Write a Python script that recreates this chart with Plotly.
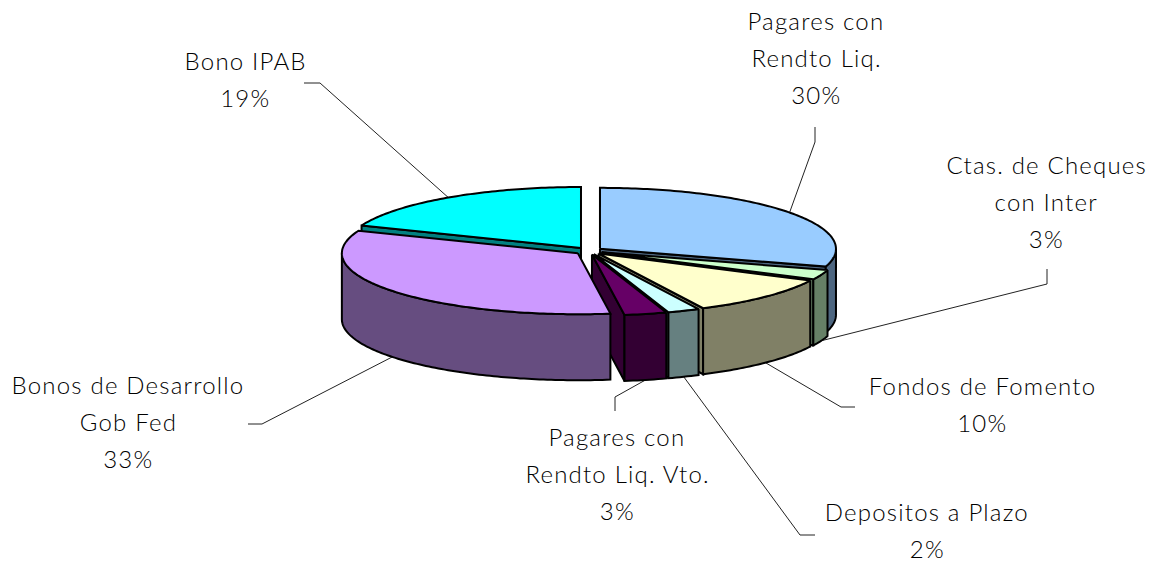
import math
import plotly.graph_objects as go

# ---- data ----
categories = ["Pagares con Rendto Liq.", "Ctas. de Cheques con Inter", "Fondos de Fomento",
              "Depositos a Plazo", "Pagares con Rendto Liq. Vto.", "Bonos de Desarrollo Gob Fed", "Bono IPAB"]
values = [29.7, 2.6, 10.4, 2.2, 2.9, 33.2, 19.0]
label_lines = [["Pagares con", "Rendto Liq."], ["Ctas. de Cheques", "con Inter"], ["Fondos de Fomento"],
               ["Depositos a Plazo"], ["Pagares con", "Rendto Liq. Vto."], ["Bonos de Desarrollo", "Gob Fed"],
               ["Bono IPAB"]]

# ---- styles / layout ----
top_colors = ["#99CCFF", "#CCFFCC", "#FFFFCC", "#CCFFFF", "#660066", "#CC99FF", "#00FFFF"]
wall_colors = ["#4D6680", "#668066", "#808066", "#668080", "#330033", "#664D80", "#008080"]
label_x = [816, 1046, 982, 927, 617, 128, 245]
label_y = [20, 164, 385, 511.5, 436, 384, 60]
line_step = 37.2
elbows = [[(815, 127), (815, 142)], [(1047, 269), (1047, 284)], [(855, 407), (841, 407)],
          [(815, 535), (800, 535)], [(615, 411), (615, 397)], [(248, 424), (262, 424)], [(304, 83), (320, 83)]]
CX, CY, RX, RY, DEPTH, EXPLODE, KY = 588.8, 251.0, 236.0, 61.0, 66.0, 13.9, 0.26
LW = 2.0
FONT = "Lato"
FS = 24


def pt(ax, ay, a, r=1.0):
    return ax + RX * r * math.sin(a), ay - RY * r * math.cos(a)


def arc(ax, ay, a0, a1, dy=0.0):
    n = max(2, int(abs(a1 - a0) * 60))
    out = []
    for i in range(n + 1):
        a = a0 + (a1 - a0) * i / n
        x, y = pt(ax, ay, a)
        out.append((x, y + dy))
    return out


def poly(points, fill, width=LW):
    xs = [p[0] for p in points] + [points[0][0]]
    ys = [p[1] for p in points] + [points[0][1]]
    return go.Scatter(x=xs, y=ys, mode="lines", fill="toself", fillcolor=fill,
                      line=dict(color="#000000", width=width, simplify=False),
                      hoverinfo="skip", showlegend=False)


total = sum(values)
slices = []
acc = 0.0
for v in values:
    a0 = acc / total * 2 * math.pi
    acc += v
    a1 = acc / total * 2 * math.pi
    mid = (a0 + a1) / 2
    ax = CX + EXPLODE * math.sin(mid)
    ay = CY - EXPLODE * KY * math.cos(mid)
    slices.append((a0, a1, mid, ax, ay))

traces = []
# leader lines, under the pie
for (a0, a1, mid, ax, ay), el in zip(slices, elbows):
    x, y = pt(ax, ay, mid)
    if math.cos(mid) < 0:
        y += DEPTH
    traces.append(go.Scatter(x=[el[0][0], el[1][0], x], y=[el[0][1], el[1][1], y], mode="lines",
                             line=dict(color="#222222", width=1), hoverinfo="skip", showlegend=False))

# painter's order: back to front
order = [6, 0, 1, 2, 3, 4, 5]
for i in order:
    a0, a1, mid, ax, ay = slices[i]
    # radial cut faces that look at the viewer
    for a, vis in ((a1, math.sin(a1) > 1e-6), (a0, math.sin(a0) < -1e-6)):
        if vis:
            x, y = pt(ax, ay, a)
            traces.append(poly([(ax, ay), (x, y), (x, y + DEPTH), (ax, ay + DEPTH)], wall_colors[i]))
    # outer wall: the part of the rim in the lower half
    lo = max(a0, math.pi / 2) if a0 < 1.5 * math.pi else None
    hi = min(a1, 1.5 * math.pi)
    if lo is not None and hi > lo:
        traces.append(poly(arc(ax, ay, lo, hi) + arc(ax, ay, hi, lo, DEPTH), wall_colors[i]))
    # top face
    traces.append(poly([(ax, ay)] + arc(ax, ay, a0, a1), top_colors[i]))

fig = go.Figure(traces)

annotations = []
for lines, v, lx, ly in zip(label_lines, values, label_x, label_y):
    for k, t in enumerate(lines + [f"{round(v / total * 100)}%"]):
        annotations.append(dict(x=lx, y=ly + k * line_step, text=t, showarrow=False, xanchor="center",
                                yanchor="middle", font=dict(family=FONT, size=FS, color="#000000", weight=300)))

fig.update_layout(
    width=1156, height=563, margin=dict(l=0, r=0, t=0, b=0), paper_bgcolor="white", plot_bgcolor="white",
    xaxis=dict(range=[0, 1156], visible=False, fixedrange=True),
    yaxis=dict(range=[563, 0], visible=False, fixedrange=True),
    showlegend=False, annotations=annotations,
)
fig.write_html(
    "out.html",
    config={"displayModeBar": False},
    post_script=("document.body.style.margin='0';document.body.style.overflow='hidden';"
                 "document.querySelectorAll('.annotation-text').forEach(function(t){t.style.letterSpacing='1.2px';});"),
)
